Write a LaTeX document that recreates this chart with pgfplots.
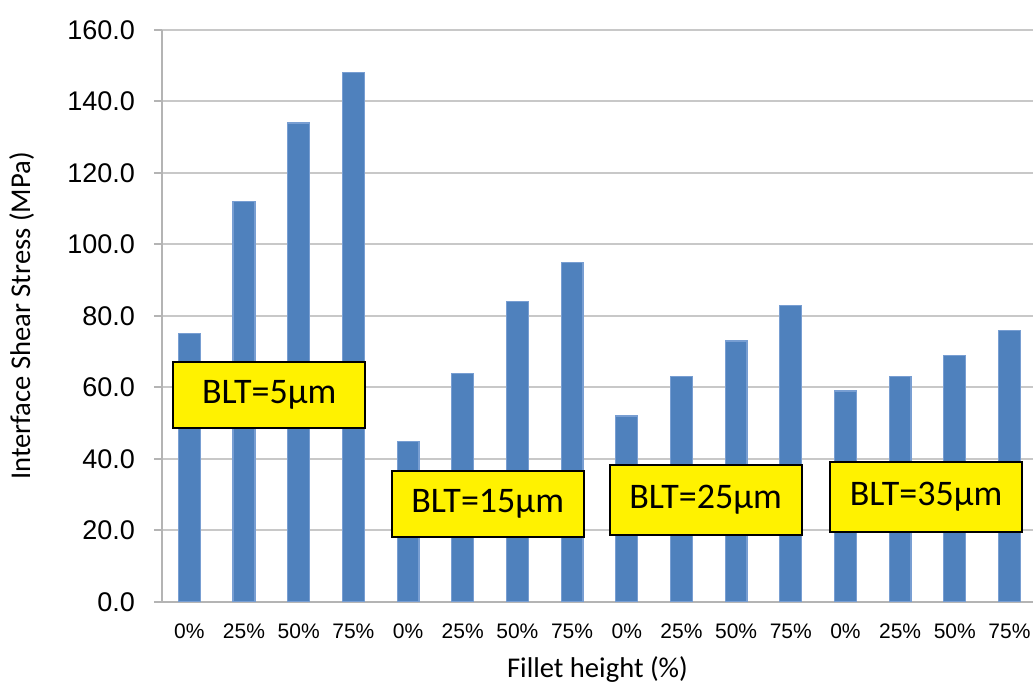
\documentclass[border=0pt]{standalone}
\usepackage{fontspec}
\usepackage{pgfplots}
\pgfplotsset{compat=1.18}
\setmainfont{Carlito}
\newfontfamily\arialfont{Liberation Sans}
\definecolor{barblue}{RGB}{79,129,189}
\definecolor{baredge}{RGB}{120,158,210}
\definecolor{gridgray}{RGB}{200,200,200}
\definecolor{axisgray}{RGB}{180,180,180}
\begin{document}
\begin{tikzpicture}
\useasboundingbox (-81pt,-41pt) rectangle (435.5pt,301pt);
\begin{axis}[
  at={(0,0)}, anchor=south west,
  scale only axis, width=435.5pt, height=286pt,
  ymin=0, ymax=160, ytick={0,20,...,160},
  xmin=-0.5, xmax=15.43,
  xtick={0,...,15},
  xticklabels={0\%,25\%,50\%,75\%,0\%,25\%,50\%,75\%,0\%,25\%,50\%,75\%,0\%,25\%,50\%,75\%},
  axis x line*=bottom, axis y line*=left,
  axis line style={draw=axisgray, line width=1pt, -},
  ymajorgrids, major grid style={draw=gridgray, line width=1pt},
  x tick style={draw=none},
  y tick style={draw=axisgray, line width=1pt},
  tick align=outside, major tick length=4pt,
  /pgf/number format/.cd, fixed, fixed zerofill, precision=1, assume math mode=true,
  /pgfplots/.cd,
  yticklabel style={font=\arialfont\fontsize{13.5}{15}\selectfont, anchor=east, xshift=-6pt},
  xticklabel style={font=\arialfont\fontsize{10.5}{12}\selectfont, anchor=center, yshift=-10.5pt},
  xlabel={Fillet height (\%)},
  ylabel={Interface Shear Stress (MPa)},
  every axis x label/.style={at={(axis description cs:0.5,-0.118)}, anchor=center, font=\fontsize{14.3}{16}\selectfont},
  every axis y label/.style={at={(axis description cs:-0.161,0.5)}, rotate=90, anchor=center, font=\fontsize{14.3}{16}\selectfont},
  ybar, bar width=0.4,
]
\addplot[fill=barblue, draw=baredge, line width=0.6pt] coordinates {
  (0,75) (1,112) (2,134) (3,148)
  (4,45) (5,64) (6,84) (7,95)
  (8,52) (9,63) (10,73) (11,83)
  (12,59) (13,63) (14,69) (15,76)
};
\tikzset{blt/.style={draw=black, line width=1pt, fill=yellow, inner sep=0pt,
  minimum width=96pt, font=\fontsize{18}{20}\selectfont}}
\node[blt, minimum height=33pt] at (axis cs:1.4625,57.9) {BLT=5µm};
\node[blt, minimum height=33pt] at (axis cs:5.457,27.4) {BLT=15µm};
\node[blt, minimum height=35pt] at (axis cs:9.443,28.5) {BLT=25µm};
\node[blt, minimum height=35pt] at (axis cs:13.474,29.4) {BLT=35µm};
\end{axis}
\end{tikzpicture}
\end{document}
